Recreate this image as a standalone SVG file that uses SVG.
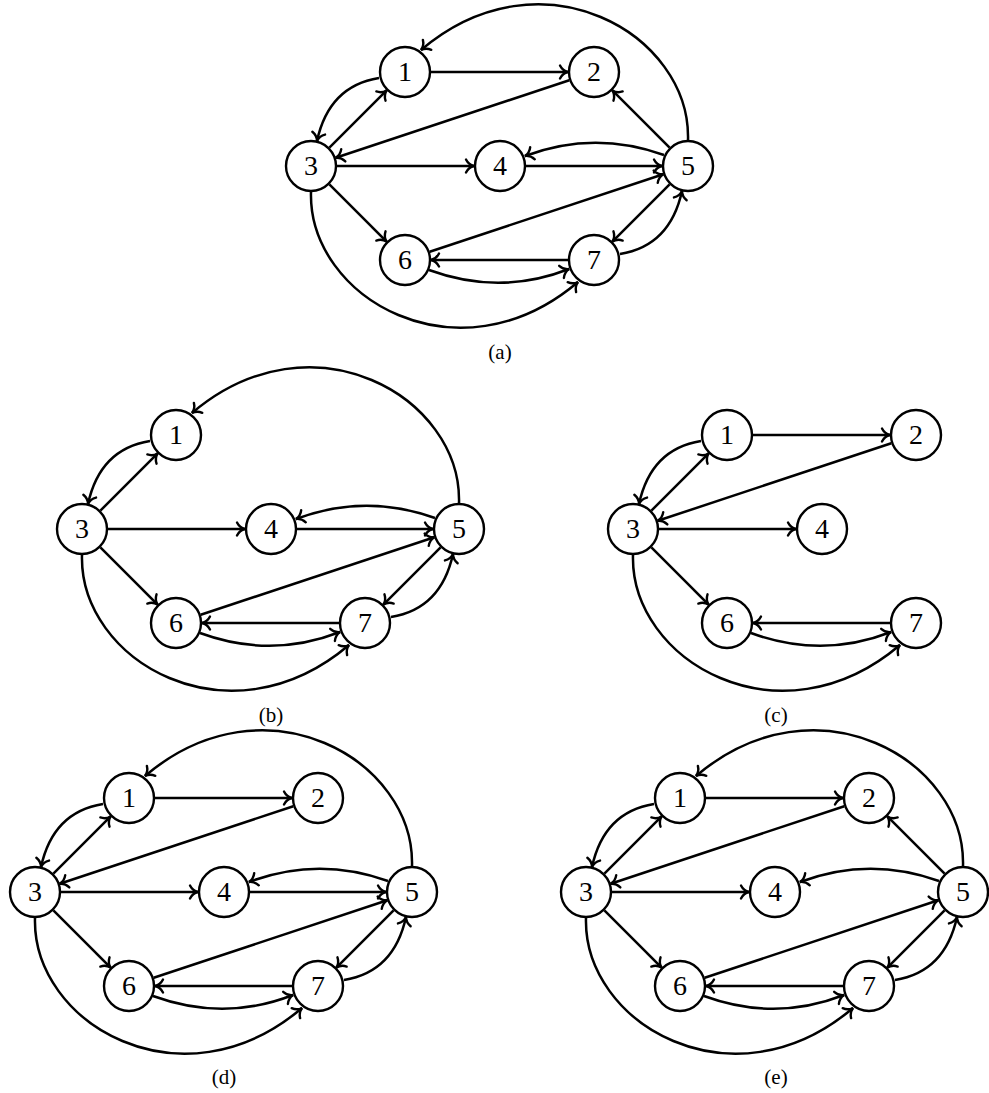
<svg xmlns="http://www.w3.org/2000/svg" width="989" height="1093" viewBox="0 0 989 1093">
<style>
.edge{fill:none;stroke:#000;stroke-width:2.5;marker-end:url(#arr)}
.node circle{fill:#fff;stroke:#000;stroke-width:2.4}
.node text{font-family:"Liberation Serif",serif;font-size:28px;text-anchor:middle}
.cap{font-family:"Liberation Serif",serif;font-size:21px;text-anchor:middle}
</style>
<defs>
<marker id="arr" markerUnits="userSpaceOnUse" orient="auto" refX="0" refY="0" markerWidth="20" markerHeight="20" overflow="visible">
<path d="M-8,-6.5 C-6,-2.5 -2.5,-0.6 0,0 C-2.5,0.6 -6,2.5 -8,6.5" fill="none" stroke="#000" stroke-width="2.4" stroke-linecap="round"/>
</marker>
</defs>
<rect width="989" height="1093" fill="#fff"/>

<!-- (a) -->
<g id="fig-a" transform="translate(311,166)">
<g id="a-edges">
<path class="edge" d="M120,-94 H257"/>
<path class="edge" d="M258.3,-85.8 L24.7,-8.2"/>
<path class="edge" d="M18.4,-18.4 L75.6,-75.6"/>
<path class="edge" d="M68,-88 Q18,-80 6,-25"/>
<path class="edge" d="M26,0 H163"/>
<path class="edge" d="M215,0 H351"/>
<path class="edge" d="M353,-11 Q283,-36 214,-10"/>
<path class="edge" d="M358.6,-18.4 L301.4,-75.6"/>
<path class="edge" d="M377,-26 C380,-132 230,-218 110,-116"/>
<path class="edge" d="M118.7,85.8 L352.3,8.2"/>
<path class="edge" d="M358.6,18.4 L301.4,75.6"/>
<path class="edge" d="M309,88 Q359,80 371,25"/>
<path class="edge" d="M257,94 H120"/>
<path class="edge" d="M118,104 Q189,130 258,103"/>
<path class="edge" d="M18.4,18.4 L75.6,75.6"/>
<path class="edge" d="M0,26 C-3,132 147,218 267,116"/>
</g>
<g id="a-n1" class="node" transform="translate(94,-94)"><circle r="25"/><text y="9">1</text></g>
<g id="a-n2" class="node" transform="translate(283,-94)"><circle r="25"/><text y="9">2</text></g>
<g id="a-n3" class="node"><circle r="25"/><text y="9">3</text></g>
<g id="a-n4" class="node" transform="translate(189,0)"><circle r="25"/><text y="9">4</text></g>
<g id="a-n5" class="node" transform="translate(377,0)"><circle r="25"/><text y="9">5</text></g>
<g id="a-n6" class="node" transform="translate(94,94)"><circle r="25"/><text y="9">6</text></g>
<g id="a-n7" class="node" transform="translate(283,94)"><circle r="25"/><text y="9">7</text></g>
</g>
<text class="cap" x="500" y="359">(a)</text>

<!-- (b) -->
<g id="fig-b" transform="translate(82,529)">
<g id="b-edges">
<path class="edge" d="M18.4,-18.4 L75.6,-75.6"/>
<path class="edge" d="M68,-88 Q18,-80 6,-25"/>
<path class="edge" d="M26,0 H163"/>
<path class="edge" d="M215,0 H351"/>
<path class="edge" d="M353,-11 Q283,-36 214,-10"/>
<path class="edge" d="M377,-26 C380,-132 230,-218 110,-116"/>
<path class="edge" d="M118.7,85.8 L352.3,8.2"/>
<path class="edge" d="M358.6,18.4 L301.4,75.6"/>
<path class="edge" d="M309,88 Q359,80 371,25"/>
<path class="edge" d="M257,94 H120"/>
<path class="edge" d="M118,104 Q189,130 258,103"/>
<path class="edge" d="M18.4,18.4 L75.6,75.6"/>
<path class="edge" d="M0,26 C-3,132 147,218 267,116"/>
</g>
<g id="b-n1" class="node" transform="translate(94,-94)"><circle r="25"/><text y="9">1</text></g>
<g id="b-n3" class="node"><circle r="25"/><text y="9">3</text></g>
<g id="b-n4" class="node" transform="translate(189,0)"><circle r="25"/><text y="9">4</text></g>
<g id="b-n5" class="node" transform="translate(377,0)"><circle r="25"/><text y="9">5</text></g>
<g id="b-n6" class="node" transform="translate(94,94)"><circle r="25"/><text y="9">6</text></g>
<g id="b-n7" class="node" transform="translate(283,94)"><circle r="25"/><text y="9">7</text></g>
</g>
<text class="cap" x="271" y="722">(b)</text>

<!-- (c) -->
<g id="fig-c" transform="translate(633,529)">
<g id="c-edges">
<path class="edge" d="M120,-94 H257"/>
<path class="edge" d="M258.3,-85.8 L24.7,-8.2"/>
<path class="edge" d="M18.4,-18.4 L75.6,-75.6"/>
<path class="edge" d="M68,-88 Q18,-80 6,-25"/>
<path class="edge" d="M26,0 H163"/>
<path class="edge" d="M257,94 H120"/>
<path class="edge" d="M118,104 Q189,130 258,103"/>
<path class="edge" d="M18.4,18.4 L75.6,75.6"/>
<path class="edge" d="M0,26 C-3,132 147,218 267,116"/>
</g>
<g id="c-n1" class="node" transform="translate(94,-94)"><circle r="25"/><text y="9">1</text></g>
<g id="c-n2" class="node" transform="translate(283,-94)"><circle r="25"/><text y="9">2</text></g>
<g id="c-n3" class="node"><circle r="25"/><text y="9">3</text></g>
<g id="c-n4" class="node" transform="translate(189,0)"><circle r="25"/><text y="9">4</text></g>
<g id="c-n6" class="node" transform="translate(94,94)"><circle r="25"/><text y="9">6</text></g>
<g id="c-n7" class="node" transform="translate(283,94)"><circle r="25"/><text y="9">7</text></g>
</g>
<text class="cap" x="776" y="722">(c)</text>

<!-- (d) -->
<g id="fig-d" transform="translate(35,892)">
<g id="d-edges">
<path class="edge" d="M120,-94 H257"/>
<path class="edge" d="M258.3,-85.8 L24.7,-8.2"/>
<path class="edge" d="M18.4,-18.4 L75.6,-75.6"/>
<path class="edge" d="M68,-88 Q18,-80 6,-25"/>
<path class="edge" d="M26,0 H163"/>
<path class="edge" d="M215,0 H351"/>
<path class="edge" d="M353,-11 Q283,-36 214,-10"/>
<path class="edge" d="M377,-26 C380,-132 230,-218 110,-116"/>
<path class="edge" d="M118.7,85.8 L352.3,8.2"/>
<path class="edge" d="M358.6,18.4 L301.4,75.6"/>
<path class="edge" d="M309,88 Q359,80 371,25"/>
<path class="edge" d="M257,94 H120"/>
<path class="edge" d="M118,104 Q189,130 258,103"/>
<path class="edge" d="M18.4,18.4 L75.6,75.6"/>
<path class="edge" d="M0,26 C-3,132 147,218 267,116"/>
</g>
<g id="d-n1" class="node" transform="translate(94,-94)"><circle r="25"/><text y="9">1</text></g>
<g id="d-n2" class="node" transform="translate(283,-94)"><circle r="25"/><text y="9">2</text></g>
<g id="d-n3" class="node"><circle r="25"/><text y="9">3</text></g>
<g id="d-n4" class="node" transform="translate(189,0)"><circle r="25"/><text y="9">4</text></g>
<g id="d-n5" class="node" transform="translate(377,0)"><circle r="25"/><text y="9">5</text></g>
<g id="d-n6" class="node" transform="translate(94,94)"><circle r="25"/><text y="9">6</text></g>
<g id="d-n7" class="node" transform="translate(283,94)"><circle r="25"/><text y="9">7</text></g>
</g>
<text class="cap" x="224" y="1084">(d)</text>

<!-- (e) -->
<g id="fig-e" transform="translate(586,892)">
<g id="e-edges">
<path class="edge" d="M120,-94 H257"/>
<path class="edge" d="M258.3,-85.8 L24.7,-8.2"/>
<path class="edge" d="M18.4,-18.4 L75.6,-75.6"/>
<path class="edge" d="M68,-88 Q18,-80 6,-25"/>
<path class="edge" d="M26,0 H163"/>
<path class="edge" d="M353,-11 Q283,-36 214,-10"/>
<path class="edge" d="M358.6,-18.4 L301.4,-75.6"/>
<path class="edge" d="M377,-26 C380,-132 230,-218 110,-116"/>
<path class="edge" d="M118.7,85.8 L352.3,8.2"/>
<path class="edge" d="M358.6,18.4 L301.4,75.6"/>
<path class="edge" d="M309,88 Q359,80 371,25"/>
<path class="edge" d="M257,94 H120"/>
<path class="edge" d="M118,104 Q189,130 258,103"/>
<path class="edge" d="M18.4,18.4 L75.6,75.6"/>
<path class="edge" d="M0,26 C-3,132 147,218 267,116"/>
</g>
<g id="e-n1" class="node" transform="translate(94,-94)"><circle r="25"/><text y="9">1</text></g>
<g id="e-n2" class="node" transform="translate(283,-94)"><circle r="25"/><text y="9">2</text></g>
<g id="e-n3" class="node"><circle r="25"/><text y="9">3</text></g>
<g id="e-n4" class="node" transform="translate(189,0)"><circle r="25"/><text y="9">4</text></g>
<g id="e-n5" class="node" transform="translate(377,0)"><circle r="25"/><text y="9">5</text></g>
<g id="e-n6" class="node" transform="translate(94,94)"><circle r="25"/><text y="9">6</text></g>
<g id="e-n7" class="node" transform="translate(283,94)"><circle r="25"/><text y="9">7</text></g>
</g>
<text class="cap" x="776" y="1084">(e)</text>
</svg>
